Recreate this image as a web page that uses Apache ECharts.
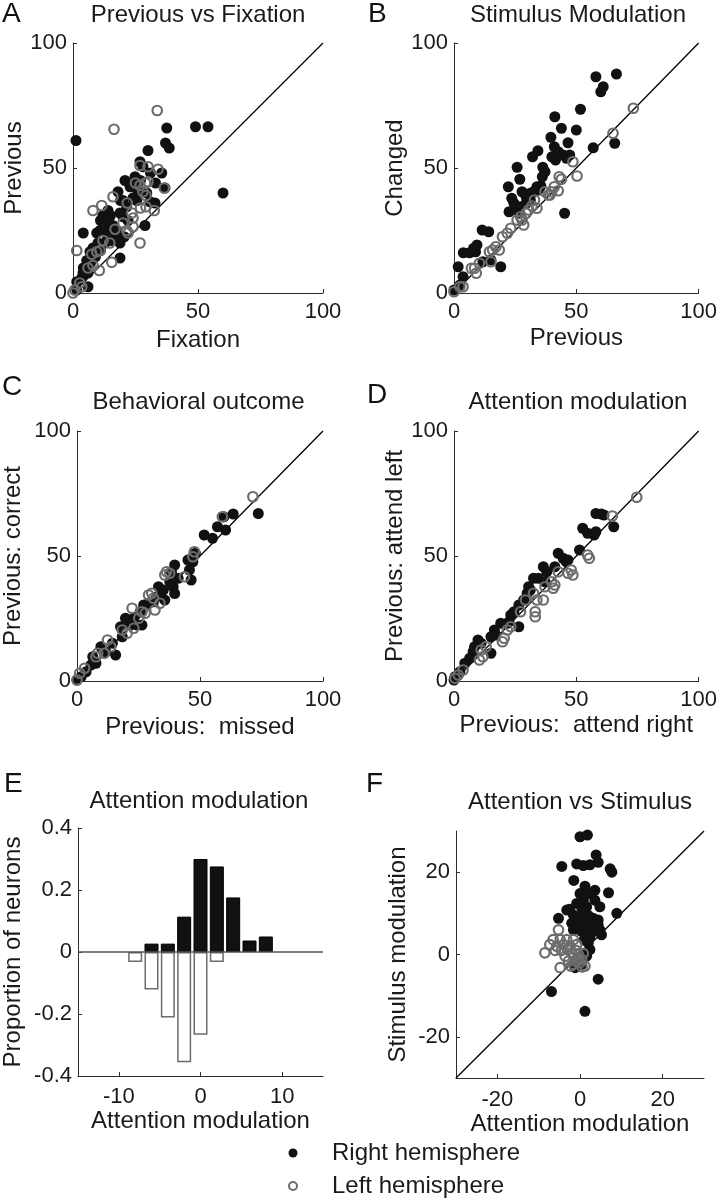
<!DOCTYPE html>
<html>
<head>
<meta charset="utf-8">
<script src="https://cdn.jsdelivr.net/npm/echarts@6/dist/echarts.min.js"></script>
<style>
html,body{margin:0;padding:0;background:#fff;}
#chart{width:720px;height:1199px;}
</style>
</head>
<body>
<div id="chart"></div>
<script>
// ---------- DATA ----------
const aRight = [[1.2,61],[37.5,66],[49,66.5],[54,66.5],[30,57],[37,60],[38.5,58],[60,40],[26.8,52.5],[20.8,45],[24.8,46.5],[35.5,48],[18,40.5],[36.8,42],[29.5,40],[30.8,36.5],[20,37],[21.5,34.5],[18.8,32],[22,29],[12,31],[13.5,28.5],[10.8,25],[9.5,24],[4.1,24],[17.5,25],[18.8,20],[28.8,27],[12.8,20],[6.8,16.5],[5.5,13],[18.8,14],[4.1,10],[6,8],[3.5,6],[6,2.5],[1.5,4.5],[15.5,21],[22.8,42.5],[32.8,36],[28,50.5],[31,48],[23.5,42.5],[19,37],[25.5,37],[15,31],[11,29],[13.5,25],[20,30.5],[16.5,22],[20.5,22.5],[11,17],[13.5,21],[8,18],[9,14.5],[4,8],[1.5,1.2],[14,33],[26,41],[33,44],[24,38],[27,45],[16,27],[10,20],[7,12]];
const aLeft = [[33.7,73],[16.4,65.5],[26.8,51],[30,50.5],[34,49.5],[25,44],[26.8,43],[29,44],[30,44.5],[28,40.5],[29.2,39],[36.5,42],[8,33],[11.5,35],[16,38.5],[21.7,36],[27,34],[29.2,34.5],[32.5,33],[23.5,32],[24,30],[16.8,25.5],[12,21],[14.7,20],[21.5,25],[24,26.5],[26.8,20],[1.5,17],[7.5,15.5],[9.5,16.5],[10.8,17],[15.5,12.3],[6,10],[8,11],[10.5,9],[0.7,1.2],[2.7,4],[3.5,2.5],[0,0],[20,28],[22,24]];

const bRight = [[58,86.5],[66.4,87.6],[60,80.5],[61,82.5],[51.7,73.5],[41.2,70.5],[43.9,65.9],[50,65.2],[39.6,62.3],[46.6,60.1],[56.9,58.1],[65.7,59.9],[41,58.5],[42.6,56.5],[40,54.5],[44.6,55.2],[46,53.9],[47.3,55.2],[34.3,56.9],[32.1,54.5],[25.8,50.3],[26.9,45.5],[22.2,42.5],[36.3,50.3],[37.2,48.5],[35.5,42.8],[34.5,41.2],[23.6,37.9],[25.2,34.5],[22.5,32.5],[27.8,40.5],[29.5,38.5],[31.2,39.9],[29.5,35.9],[26.5,31.9],[33.9,42.5],[31.2,37.2],[45.2,31.9],[11.5,25.2],[14.2,24.5],[9.4,19.2],[8,17.9],[3.8,16.1],[6.4,16.1],[8.8,16.5],[15.1,13.2],[11.8,12.5],[1.7,10.5],[19.1,10.5],[3.7,6.5],[2.4,3.2],[0,1.2],[41.5,53.2],[36.1,46.5],[32.5,40.5],[24.5,35.9],[27.2,34.5]];
const bLeft = [[73.3,73.9],[65,63.9],[48.6,52.5],[50.3,46.8],[43,46.5],[43.9,45.5],[37.2,40.5],[39.2,39.2],[42.6,40.9],[41,42.5],[32.9,37.2],[31.9,34.8],[33.9,33.9],[30.5,33.2],[29.5,31.9],[27.2,30.5],[27.8,29.2],[28.5,27.2],[23.2,25.9],[21.8,23.9],[19.8,22.5],[17.1,18.5],[15.8,17.2],[14.5,16.5],[18.5,17.2],[15.1,12.5],[10.4,11.9],[8.4,9.9],[9.1,7.9],[7.1,9.9],[2.4,2.5],[0,0.5],[3.7,2.5],[38.6,39.2],[39.9,40.5],[25.8,29.2]];

const cRight = [[73.7,67],[63.5,66.8],[59.7,65.7],[57.1,61.7],[60.4,60.4],[51.7,58.4],[55.1,57.1],[48.1,51.1],[47.1,47.7],[45.7,44.4],[46.4,40.4],[39.7,46.4],[38.4,43.7],[37.7,39.7],[39.1,37.7],[39.7,35],[33.1,37.7],[35.1,36.4],[32.4,33.7],[35.7,32.4],[31.1,31.7],[29.1,31.1],[27.1,30.4],[25.7,27.7],[23.1,25.1],[21.7,22.4],[24.4,22.4],[26.4,22.4],[19.7,25.1],[17.7,21.7],[18.4,17.7],[14.4,15.1],[15.7,10.4],[9.7,13.7],[11.7,11.7],[6.4,9.7],[7.7,7.1],[5.7,6.4],[3.7,3.7],[1.7,1.7],[0,0.4],[45.1,48.4],[41.1,41.1]];
const cLeft = [[71.5,73.7],[59.1,65.7],[47.7,51.7],[47.1,49.7],[36.4,43.7],[37.7,43.1],[35.7,42.4],[30.4,35.1],[31.1,33.1],[29.1,34.4],[31.7,28.4],[22.4,29.1],[26.4,27.7],[27.7,27.1],[23.1,21.1],[20.4,19.1],[12.4,16.4],[13.7,13.7],[11.1,11.1],[8.4,11.1],[7.7,9.7],[3.1,5.1],[1.1,3.1],[0,0.4],[18.4,20.4],[25.1,25.1],[33.7,31.1],[43.7,41.7]];

const dRight = [[58,67],[60.2,66.8],[61.3,66.4],[65.3,61.7],[52.6,61.1],[54.6,59.1],[57.3,58.4],[58,59.7],[51.3,52.4],[42.6,51.1],[44.6,49.1],[45.9,47.7],[46.6,48.4],[36.5,45.7],[37.9,43.7],[34.5,41.1],[37.2,39.7],[30.5,37.7],[31.2,36.4],[29.9,35.1],[28.5,32.4],[26.5,30.4],[24.5,27.7],[23.2,26.4],[22.5,23.7],[21.8,23.1],[19.1,23.1],[26.5,21.7],[16.5,20.4],[17.1,18.4],[15.1,17.7],[9.8,16.4],[11.1,15.1],[8.4,13.7],[7.8,11.7],[15.1,11.1],[6.4,9.1],[4.4,7.1],[2.4,3.7],[0.4,1.7],[0,0.4],[32.5,41.1],[41.2,45.7]];
const dLeft = [[74.7,73.5],[64.7,66],[54.6,50.4],[55.3,49.1],[47.9,44.4],[46.6,43.1],[48.6,42.4],[39.9,39.7],[41.2,38.4],[37.2,37.7],[40.6,37.1],[32.5,35.1],[33.9,32.4],[36.5,32.4],[33.2,27.7],[33.2,25.7],[27.2,27.7],[23.2,21.7],[21.8,20.4],[20.5,17.1],[19.8,15.7],[13.1,13.7],[11.1,12.4],[10.4,8.4],[11.8,9.7],[3.7,4.4],[1.7,2.4],[0.4,1.1],[29.2,32.4],[42.6,43.7]];

const eBins  = [-8, -6, -4, -2, 0, 2, 4, 6, 8];
const eRight = [null, 0.027, 0.027, 0.114, 0.30, 0.276, 0.176, 0.037, 0.050];
const eLeft  = [-0.032, -0.121, -0.211, -0.356, -0.267, -0.032, null, null, null];

const fRight = [[0,28.6],[1.8,29],[3.9,24.2],[4.4,22.4],[-4.4,21.4],[-0.8,22],[0.8,21.6],[2.4,21.8],[7.3,20.8],[7.7,20],[-1.5,18],[1.2,16.6],[3.6,15.6],[2.4,14.8],[6.9,15],[0,14.8],[0.8,13.2],[-0.8,12.4],[1.6,11.6],[3.6,13.2],[4.8,11.6],[-3.2,10.8],[-5.2,8.8],[-1.6,9.6],[0,9],[1.6,9.2],[3.2,8.8],[4.4,8.4],[-2,7.6],[-0.4,6.8],[1.2,7.2],[2.8,6.8],[4.4,7.2],[8.9,10],[-1.6,6],[0.4,5.6],[4.8,6],[2.4,4.4],[2,2.8],[2.4,1.2],[1.6,-0.4],[-1.2,-3.2],[0.4,-2.4],[4.4,-6],[-6.9,-9],[1.2,-13.8],[5.2,4.8],[-2.5,11],[0.5,11],[2,9.5],[1,3.5],[3,5.5],[-0.5,8],[1.5,0.5]];
const fLeft = [[-5.2,6],[-6.5,3.6],[-4.8,3.6],[-3.2,3.6],[-1.6,3.6],[-7.3,2.4],[-5.6,2],[-4,2.4],[-2.4,2],[-0.8,2.4],[-8.5,0.4],[-3.6,-0.4],[-2,0.4],[-0.4,0],[-2.8,-1.6],[-1.2,-1.6],[0.4,-1.2],[-4.8,-3.2],[1.2,-2.8],[0,-2],[-1.6,-2.4],[-6,1],[-4.5,1],[-3,1.2],[-1,1],[0.8,0.2],[-0.5,-0.8],[-2.2,-2.8],[0.5,-3]];

const unityRange = [0, 100];
const fUnityRange = [-30, 30];
const eZeroRange = [-15, 15];

const titles = ['Previous vs Fixation', 'Stimulus Modulation', 'Behavioral outcome', 'Attention modulation', 'Attention modulation', 'Attention vs Stimulus'];
const xNames = ['Fixation', 'Previous', 'Previous:  missed', 'Previous:  attend right', 'Attention modulation', 'Attention modulation'];
const yNames = ['Previous', 'Changed', 'Previous: correct', 'Previous: attend left', 'Proportion of neurons', 'Stimulus modulation'];
const letters = ['A', 'B', 'C', 'D', 'E', 'F'];
const legendNames = ['Right hemisphere', 'Left hemisphere'];

// ---------- STYLE / LAYOUT ----------
const FONT = "'Liberation Sans', Arial, Helvetica, sans-serif";
const TXT = '#1a1a1a';
const AX = '#2b2b2b';
const BLACK = '#111111';
const GRAY = '#6c6c6c';

const grids = [
  {left: 73,  top: 43,  width: 250, height: 250},
  {left: 454, top: 43,  width: 248, height: 250},
  {left: 74,  top: 431, width: 249, height: 250},
  {left: 454, top: 431, width: 248, height: 250},
  {left: 75,  top: 828, width: 248, height: 248},
  {left: 456, top: 831, width: 248, height: 247}
];
const titleTops = [3, 3, 390, 390, 789, 790];
const letterPos = [[2, 0], [368, 0], [2, 373], [367, 381], [4, 770], [366, 770]];
const yGaps = [46, 46, 52, 42, 53, 46];
const xGaps = [35, 33, 34, 32, 32, 30];
const xMargins = [8, 8, 8, 8, 10, 11];

function xAxis(i, min, max, opts, custom) {
  const lab = {fontSize: 22, color: TXT, fontFamily: FONT, margin: xMargins[i]};
  const tick = {inside: true, length: 4, lineStyle: {color: AX}};
  if (custom) { lab.customValues = custom; tick.customValues = custom; }
  return Object.assign({
    type: 'value', gridIndex: i, min: min, max: max,
    name: xNames[i], nameLocation: 'middle', nameGap: xGaps[i],
    nameTextStyle: {fontSize: 24, color: TXT, fontFamily: FONT},
    axisLine: {onZero: false, lineStyle: {color: AX, width: 1}},
    axisTick: tick, axisLabel: lab,
    splitLine: {show: false}
  }, opts);
}
function yAxis(i, min, max, opts, custom) {
  const lab = {fontSize: 22, color: TXT, fontFamily: FONT, margin: 6};
  const tick = {inside: true, length: 4, lineStyle: {color: AX}};
  if (custom) { lab.customValues = custom; tick.customValues = custom; }
  return Object.assign({
    type: 'value', gridIndex: i, min: min, max: max,
    name: yNames[i], nameLocation: 'middle', nameGap: yGaps[i],
    nameTextStyle: {fontSize: 24, color: TXT, fontFamily: FONT},
    axisLine: {onZero: false, lineStyle: {color: AX, width: 1}},
    axisTick: tick, axisLabel: lab,
    splitLine: {show: false}
  }, opts);
}

const dotStyle = {color: BLACK, opacity: 1};
const ringStyle = {color: 'rgba(0,0,0,0)', borderColor: GRAY, borderWidth: 2.2, opacity: 1};

const xAxes = [], yAxes = [], series = [];
const scatterSets = [[aRight, aLeft], [bRight, bLeft], [cRight, cLeft], [dRight, dLeft]];
for (let i = 0; i < 4; i++) {
  xAxes.push(xAxis(i, 0, 100, {interval: 50}));
  yAxes.push(yAxis(i, 0, 100, {interval: 50}));
  series.push({type: 'line', xAxisIndex: i, yAxisIndex: i, data: [[unityRange[0], unityRange[0]], [unityRange[1], unityRange[1]]],
    showSymbol: false, symbol: 'none', lineStyle: {color: '#000', width: 1.3}, z: 1, silent: true});
  series.push({type: 'scatter', name: legendNames[0], xAxisIndex: i, yAxisIndex: i, data: scatterSets[i][0],
    symbol: 'circle', symbolSize: 11, itemStyle: dotStyle, z: 2});
  series.push({type: 'scatter', name: legendNames[1], xAxisIndex: i, yAxisIndex: i, data: scatterSets[i][1],
    symbol: 'circle', symbolSize: 9.5, itemStyle: ringStyle, z: 3});
}
// Panel E
xAxes.push(xAxis(4, -15, 15, {}, [-10, 0, 10]));
yAxes.push(yAxis(4, -0.4, 0.4, {interval: 0.2}));
series.push({type: 'line', xAxisIndex: 4, yAxisIndex: 4, data: [[eZeroRange[0], 0], [eZeroRange[1], 0]],
  showSymbol: false, symbol: 'none', lineStyle: {color: '#555', width: 1.5}, z: 5, silent: true});
series.push({type: 'bar', name: legendNames[0], xAxisIndex: 4, yAxisIndex: 4, barWidth: 14, barGap: '-100%',
  data: eBins.map((b, k) => [b, eRight[k]]), itemStyle: {color: BLACK, borderColor: '#000', borderWidth: 1}, z: 2});
series.push({type: 'bar', name: legendNames[1], xAxisIndex: 4, yAxisIndex: 4, barWidth: 14, barGap: '-100%',
  data: eBins.map((b, k) => [b, eLeft[k]]), itemStyle: {color: '#fff', borderColor: GRAY, borderWidth: 1.5}, z: 2});
// Panel F
xAxes.push(xAxis(5, -30, 30, {}, [-20, 0, 20]));
yAxes.push(yAxis(5, -30, 30, {}, [-20, 0, 20]));
series.push({type: 'line', xAxisIndex: 5, yAxisIndex: 5, data: [[fUnityRange[0], fUnityRange[0]], [fUnityRange[1], fUnityRange[1]]],
  showSymbol: false, symbol: 'none', lineStyle: {color: '#000', width: 1.3}, z: 1, silent: true});
series.push({type: 'scatter', name: legendNames[0], xAxisIndex: 5, yAxisIndex: 5, data: fRight,
  symbol: 'circle', symbolSize: 11, itemStyle: dotStyle, z: 2});
series.push({type: 'scatter', name: legendNames[1], xAxisIndex: 5, yAxisIndex: 5, data: fLeft,
  symbol: 'circle', symbolSize: 9.5, itemStyle: ringStyle, z: 3});

const titleOpts = titles.map((t, i) => ({
  text: t, left: grids[i].left + grids[i].width / 2, top: titleTops[i], textAlign: 'center', padding: 0,
  textStyle: {fontSize: 24, fontWeight: 'normal', color: TXT, fontFamily: FONT}
}));

const graphics = letters.map((L, i) => ({
  type: 'text', x: letterPos[i][0], y: letterPos[i][1],
  style: {text: L, fontSize: 28, fontFamily: FONT, fill: '#111'}
}));
// Legend
graphics.push({type: 'circle', shape: {cx: 293, cy: 1153, r: 4.5}, style: {fill: BLACK}});
graphics.push({type: 'circle', shape: {cx: 293, cy: 1186, r: 4}, style: {fill: 'none', stroke: GRAY, lineWidth: 2}});
graphics.push({type: 'text', x: 332, y: 1153, style: {text: legendNames[0], fontSize: 24, fontFamily: FONT, fill: TXT, verticalAlign: 'middle'}});
graphics.push({type: 'text', x: 332, y: 1186, style: {text: legendNames[1], fontSize: 24, fontFamily: FONT, fill: TXT, verticalAlign: 'middle'}});

const chart = echarts.init(document.getElementById('chart'), null, {renderer: 'canvas'});
chart.setOption({
  animation: false,
  backgroundColor: '#fff',
  title: titleOpts,
  grid: grids,
  xAxis: xAxes,
  yAxis: yAxes,
  series: series,
  graphic: graphics
});
</script>
</body>
</html>
